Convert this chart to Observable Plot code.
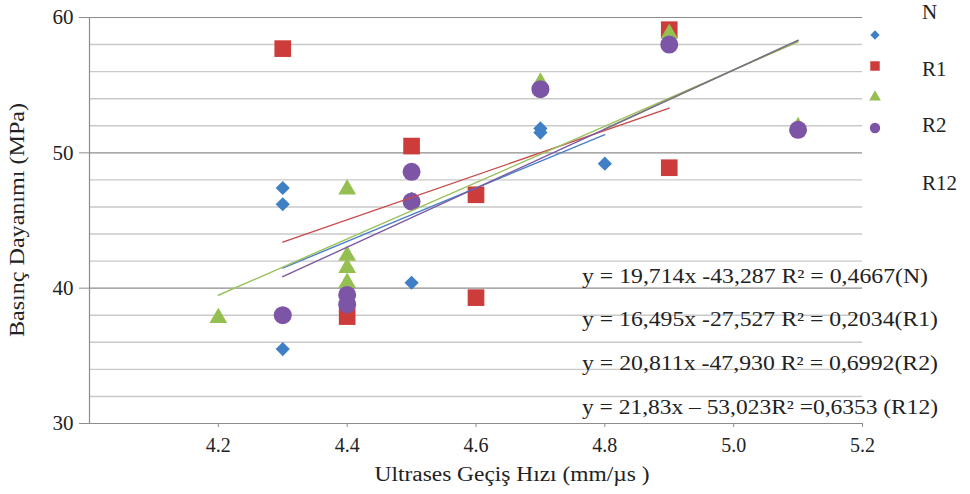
<!DOCTYPE html>
<html>
<head>
<meta charset="utf-8">
<script src="https://cdn.jsdelivr.net/npm/d3@7"></script>
<script src="https://cdn.jsdelivr.net/npm/@observablehq/plot@0.6"></script>
<style>
  html, body { margin: 0; padding: 0; background: #fff; }
  #chart { width: 970px; height: 494px; }
  #chart svg, #chart svg text { font-family: "Liberation Serif", "Times New Roman", Times, serif; }
</style>
</head>
<body>
<div id="chart"></div>
<script>
// ---- data ----
const seriesNames = ["N", "R1", "R2", "R12"];
const nX = [4.3, 4.3, 4.3, 4.5, 4.5, 4.7, 4.7, 4.8];
const nY = [47.4, 46.2, 35.5, 46.6, 40.4, 51.8, 51.5, 49.2];
const r1X = [4.3, 4.4, 4.5, 4.6, 4.6, 4.9, 4.9];
const r1Y = [57.7, 37.9, 50.5, 46.9, 39.3, 59.1, 48.9];
const r2X = [4.2, 4.4, 4.4, 4.4, 4.4, 4.7, 4.9, 5.1];
const r2Y = [37.8, 47.3, 42.4, 41.5, 40.4, 55.2, 58.8, 51.9];
const r12X = [4.3, 4.4, 4.4, 4.5, 4.5, 4.7, 4.9, 5.1];
const r12Y = [38.0, 39.5, 38.8, 48.6, 46.4, 54.7, 58.0, 51.7];

// trendline equations (slope, intercept) as printed
const slopes = [19.714, 16.495, 20.811, 21.83];
const intercepts = [-43.287, -27.527, -47.930, -53.023];
const equationLabels = [
  "y = 19,714x -43,287 R² = 0,4667(N)",
  "y = 16,495x -27,527 R² = 0,2034(R1)",
  "y = 20,811x -47,930 R² = 0,6992(R2)",
  "y = 21,83x – 53,023R² =0,6353 (R12)"
];
// where the R2 and R12 trendlines merge into one grey line
const mergeFrom = 4.8;

const xTicks = [4.2, 4.4, 4.6, 4.8, 5.0, 5.2];
const yTicks = [30, 40, 50, 60];
const gridMajor = [40, 50, 60];
const gridMinor = [32, 34, 36, 38, 42, 44, 46, 48, 52, 54, 56, 58];

// ---- styles ----
const colors = ["#3f7fc6", "#cc3c3a", "#95bf50", "#7c55a6"];
const lineColors = ["#4a7fc4", "#c9494a", "#9cc15e", "#7a5aa3"];
const symbols = ["diamond2", "square", "triangle", "circle"];
const radii = [6.4, 9.4, 6.6, 9];
const FONT = "Liberation Serif, Times New Roman, Times, serif";

const xs = [nX, r1X, r2X, r12X];
const ys = [nY, r1Y, r2Y, r12Y];
const points = [];
seriesNames.forEach((s, i) => xs[i].forEach((x, j) => points.push({series: s, i, x, y: ys[i][j]})));

const trend = [];
seriesNames.forEach((s, i) => {
  const ext = d3.extent(xs[i]);
  ext.forEach(x => trend.push({series: s, i, x, y: slopes[i] * x + intercepts[i]}));
});
const merged = [mergeFrom, d3.max(r12X)].map(x => ({x, y: slopes[3] * x + intercepts[3]}));

const marks = [
  Plot.ruleY(gridMinor, {stroke: "#c9c9c9", strokeWidth: 1.4}),
  Plot.ruleY(gridMajor, {stroke: "#8c8c8c", strokeWidth: 1.2}),
  Plot.ruleY([30], {stroke: "#8c8c8c", strokeWidth: 1.2}),
  Plot.ruleX([4], {stroke: "#8c8c8c", strokeWidth: 1.2}),
  Plot.axisY({ticks: yTicks, tickSize: 10, tickPadding: 6, fontSize: 21, fontFamily: FONT, stroke: "#8c8c8c", fill: "#222", label: null}),
  Plot.axisX({ticks: xTicks, tickSize: 4, tickPadding: 10, fontSize: 20, fontFamily: FONT, stroke: "#8c8c8c", fill: "#222", tickFormat: d3.format(".1f"), label: null})
];
seriesNames.forEach((s, i) => {
  marks.push(Plot.dot(points.filter(d => d.i === i), {
    x: "x", y: "y", symbol: () => symbols[i], r: radii[i], fill: colors[i], stroke: "none"
  }));
});
seriesNames.forEach((s, i) => {
  marks.push(Plot.line(trend.filter(d => d.i === i), {x: "x", y: "y", stroke: lineColors[i], strokeWidth: 1.4}));
});
marks.push(Plot.line(merged, {x: "x", y: "y", stroke: "#7a7a7a", strokeWidth: 1.5}));

const chart = Plot.plot({
  width: 970, height: 494,
  marginLeft: 89, marginRight: 108, marginTop: 17, marginBottom: 71,
  style: {fontFamily: FONT, fontSize: "20px", color: "#222", background: "white", overflow: "visible"},
  x: {domain: [4, 5.2]},
  y: {domain: [30, 60]},
  symbol: {type: "identity"},
  marks
});

const svg = d3.select(chart);
function addText(x, y, str, opts = {}) {
  const t = svg.append("text").attr("x", x).attr("y", y)
    .attr("text-anchor", opts.anchor || "start")
    .attr("dominant-baseline", "middle")
    .attr("font-family", FONT).attr("font-size", opts.size || 20).attr("fill", "#222")
    .text(str);
  if (opts.width) t.attr("textLength", opts.width).attr("lengthAdjust", "spacingAndGlyphs");
  if (opts.transform) t.attr("transform", opts.transform);
  return t;
}
// axis titles
addText(512, 476, "Ultrases Geçiş Hızı (mm/µs )", {anchor: "middle", size: 20, width: 275});
addText(0, 0, "Basınç Dayanımı (MPa)", {anchor: "middle", size: 20, width: 234, transform: "translate(19,220) rotate(-90)"});

// equations
const eqY = [278, 321, 365, 409];
const eqW = [346, 356, 356, 356];
equationLabels.forEach((t, k) => addText(582, eqY[k], t, {width: eqW[k]}));

// legend
const legSymY = [35, 66, 97, 128];
const legSymSize = [55, 90, 60, 85];
const legSym = [d3.symbolDiamond2, d3.symbolSquare, d3.symbolTriangle, d3.symbolCircle];
legSym.forEach((sym, i) => {
  svg.append("path").attr("transform", `translate(875,${legSymY[i]})`)
    .attr("d", d3.symbol(sym, legSymSize[i])()).attr("fill", colors[i]);
});
const legTextY = [14, 71, 127, 185];
seriesNames.forEach((s, i) => addText(922, legTextY[i], s, {size: 21}));

document.getElementById("chart").appendChild(chart);
</script>
</body>
</html>
